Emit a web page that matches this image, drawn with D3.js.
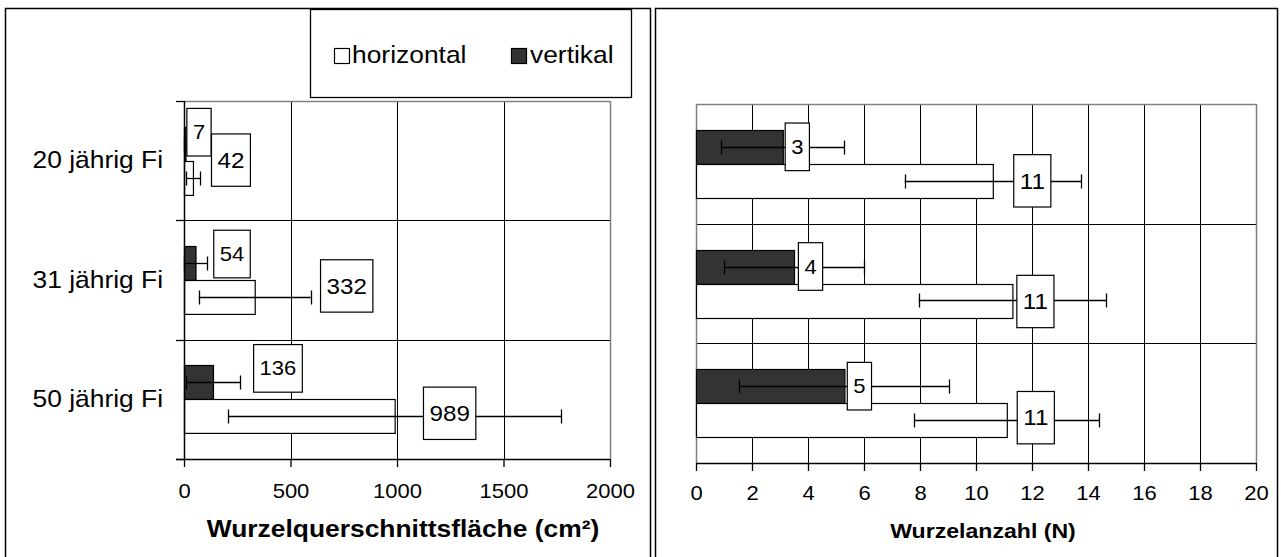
<!DOCTYPE html>
<html>
<head>
<meta charset="utf-8">
<script src="https://cdn.jsdelivr.net/npm/d3@7"></script>
<style>
  html, body { margin: 0; padding: 0; background: #fff; }
  svg { display: block; }
</style>
</head>
<body>
<script>
// Tree categories and the two root orientations
const categories = ["20 jährig Fi", "31 jährig Fi", "50 jährig Fi"];
const series = ["vertikal", "horizontal"];

// Root cross-section area (cm²): means and standard deviations
const areaVertikal = [7, 54, 136];
const areaHorizontal = [42, 332, 989];
const areaVertikalSD = [5, 54, 127];
const areaHorizontalSD = [33, 263, 782];

// Root count (N): means and standard deviations
const countVertikal = [3.1, 3.5, 5.3];
const countHorizontal = [10.6, 11.3, 11.1];
const countVertikalSD = [2.2, 2.5, 3.75];
const countHorizontalSD = [3.15, 3.35, 3.3];

// Axis tick values
const areaTicks = [0, 500, 1000, 1500, 2000];
const countTicks = [0, 2, 4, 6, 8, 10, 12, 14, 16, 18, 20];

// Pixel nudges of the value boxes relative to each bar's end / centre
const areaNudgeV = [[13.5, -11.5], [36.5, -9], [65, -14]];
const areaNudgeH = [[38, -17.5], [92, -11], [55, -3]];
const countNudgeV = [[14.5, 0], [16.5, 0], [15, 0]];
const countNudgeH = [[39.5, 0], [23, 1], [29, -2.5]];

const W = 1281, H = 557;
const FONT = "Arial, 'Liberation Sans', Helvetica, sans-serif";
const SX = 1.1; // slight horizontal widening of all lettering
const DARK = "#333333";
const GREY = "#808080";

const svg = d3.select("body").append("svg")
  .attr("width", W).attr("height", H)
  .attr("font-family", FONT);

const crisp = v => Math.round(v) + 0.5;
const fmt = d3.format(".0f");

function stretchedText(sel) {
  sel.each(function () {
    const t = d3.select(this);
    const prev = t.attr("transform") || "";
    t.attr("transform", prev + ` scale(${SX},1)`);
  });
}

// Outer frames of the two panels
svg.append("rect").attr("x", 5.5).attr("y", 8.5).attr("width", 645).attr("height", 580)
  .attr("fill", "none").attr("stroke", "#000").attr("stroke-width", 1.5);
svg.append("rect").attr("x", 655.5).attr("y", 8.5).attr("width", 622).attr("height", 580)
  .attr("fill", "none").attr("stroke", "#000").attr("stroke-width", 1.5);

function drawPanel(opt) {
  const g = svg.append("g");
  const x = d3.scaleLinear().domain([opt.ticks[0], opt.ticks[opt.ticks.length - 1]])
    .range([opt.left, opt.right]);
  const y = d3.scaleBand().domain(categories).range([opt.top, opt.bottom]);
  const inner = d3.scaleBand().domain(series).range([0, y.bandwidth()])
    .paddingInner(0).paddingOuter(0.76);

  // vertical gridlines
  g.append("g").selectAll("line").data(opt.ticks.slice(1, -1)).join("line")
    .attr("x1", d => crisp(x(d))).attr("x2", d => crisp(x(d)))
    .attr("y1", opt.top).attr("y2", opt.bottom)
    .attr("stroke", "#000").attr("stroke-width", 1);
  // horizontal category separators
  g.append("g").selectAll("line").data(categories.slice(1)).join("line")
    .attr("x1", opt.left).attr("x2", opt.right)
    .attr("y1", d => crisp(y(d))).attr("y2", d => crisp(y(d)))
    .attr("stroke", "#000").attr("stroke-width", 1);

  // plot-area border (grey): top, right, and left when there is no category axis
  const border = g.append("g").attr("stroke", GREY).attr("stroke-width", 1.5).attr("fill", "none");
  border.append("line").attr("x1", opt.left).attr("x2", opt.right)
    .attr("y1", crisp(opt.top)).attr("y2", crisp(opt.top));
  border.append("line").attr("x1", crisp(opt.right)).attr("x2", crisp(opt.right))
    .attr("y1", opt.top).attr("y2", opt.bottom);
  if (!opt.showCategories) {
    border.append("line").attr("x1", crisp(opt.left)).attr("x2", crisp(opt.left))
      .attr("y1", opt.top).attr("y2", opt.bottom);
  }

  const rows = [];
  categories.forEach((c, i) => {
    rows.push({ cat: c, s: "vertikal", v: opt.vert[i], sd: opt.vertSD[i], nudge: opt.nudgeV[i], fs: opt.fsV });
    rows.push({ cat: c, s: "horizontal", v: opt.hor[i], sd: opt.horSD[i], nudge: opt.nudgeH[i], fs: opt.fsH });
  });
  const by = d => y(d.cat) + inner(d.s);
  const bh = inner.bandwidth();

  // bars
  g.append("g").selectAll("rect").data(rows).join("rect")
    .attr("x", crisp(x(0)))
    .attr("y", d => crisp(by(d)))
    .attr("width", d => Math.max(0, x(d.v) - x(0)))
    .attr("height", bh)
    .attr("fill", d => d.s === "vertikal" ? DARK : "#fff")
    .attr("stroke", "#000").attr("stroke-width", 1.2);

  // error bars (mean ± SD, lower end held at zero)
  const eb = g.append("g").attr("stroke", "#000").attr("stroke-width", 1.3);
  rows.forEach(d => {
    const cy = crisp(by(d) + bh / 2);
    const lo = x(Math.max(0, d.v - d.sd)), hi = x(d.v + d.sd);
    eb.append("line").attr("x1", lo).attr("x2", hi).attr("y1", cy).attr("y2", cy);
    eb.append("line").attr("x1", crisp(lo)).attr("x2", crisp(lo)).attr("y1", cy - 7).attr("y2", cy + 7);
    eb.append("line").attr("x1", crisp(hi)).attr("x2", crisp(hi)).attr("y1", cy - 7).attr("y2", cy + 7);
  });

  // bottom value axis
  const xAxis = g.append("g").attr("transform", `translate(0,${crisp(opt.bottom) - 0.5})`)
    .call(d3.axisBottom(x).tickValues(opt.ticks).tickFormat(d3.format("d"))
      .tickSizeInner(8).tickSizeOuter(0).tickPadding(opt.tickPad));
  xAxis.select(".domain").attr("stroke", "#000").attr("stroke-width", 1.5)
    .attr("d", `M${opt.showCategories ? opt.left - 8 : opt.left},0.5H${opt.right}`);
  xAxis.selectAll(".tick line").attr("stroke", "#000").attr("stroke-width", 1.3);
  xAxis.selectAll(".tick text").attr("fill", "#000").attr("font-size", opt.fsTick)
    .attr("font-family", FONT).call(stretchedText);

  // category axis with boundary ticks
  if (opt.showCategories) {
    const yAxis = g.append("g").attr("transform", `translate(${crisp(opt.left) - 0.5},0)`)
      .call(d3.axisLeft(y).tickSize(0).tickPadding(opt.catPad));
    yAxis.select(".domain").attr("stroke", "#000").attr("stroke-width", 1.5)
      .attr("d", `M0.5,${opt.top}V${opt.bottom}`);
    yAxis.selectAll(".tick text").attr("fill", "#000").attr("font-size", opt.fsCat)
      .attr("font-family", FONT).call(stretchedText);
    const bounds = categories.map(c => y(c)).concat([opt.bottom]);
    g.append("g").selectAll("line").data(bounds).join("line")
      .attr("x1", opt.left - 8).attr("x2", opt.left)
      .attr("y1", d => crisp(d)).attr("y2", d => crisp(d))
      .attr("stroke", "#000").attr("stroke-width", 1.3);
  }

  // value boxes
  const lab = g.append("g").selectAll("g").data(rows).join("g")
    .attr("transform", d => `translate(${x(d.v) + d.nudge[0]},${by(d) + bh / 2 + d.nudge[1]})`);
  lab.append("rect").attr("fill", "#fff").attr("stroke", "#000").attr("stroke-width", 1.2);
  const texts = lab.append("text").text(d => fmt(d.v))
    .attr("text-anchor", "middle").attr("dy", "0.35em")
    .attr("font-size", d => d.fs).attr("fill", "#000")
    .call(stretchedText);
  texts.each(function (d) {
    const w = this.getComputedTextLength() * SX + 12;
    const h = d.fs * 2.38;
    d3.select(this.previousSibling)
      .attr("x", -w / 2).attr("y", -h / 2).attr("width", w).attr("height", h);
  });

  // axis title
  svg.append("text").attr("x", opt.titleX).attr("y", opt.titleY)
    .attr("text-anchor", "middle").attr("font-weight", "bold")
    .attr("font-size", opt.fsTitle).attr("fill", "#000")
    .attr("transform", `translate(${opt.titleX * (1 - SX)},0) scale(${SX},1)`)
    .text(opt.title);
}

drawPanel({
  left: 184, right: 610, top: 101, bottom: 459,
  ticks: areaTicks,
  vert: areaVertikal, hor: areaHorizontal, vertSD: areaVertikalSD, horSD: areaHorizontalSD,
  nudgeV: areaNudgeV, nudgeH: areaNudgeH,
  fsV: 20, fsH: 22, fsTick: 20, fsCat: 24, fsTitle: 24,
  tickPad: 17, catPad: 19,
  showCategories: true,
  title: "Wurzelquerschnittsfläche (cm²)", titleX: 403, titleY: 537
});

drawPanel({
  left: 696, right: 1256, top: 104, bottom: 463,
  ticks: countTicks,
  vert: countVertikal, hor: countHorizontal, vertSD: countVertikalSD, horSD: countHorizontalSD,
  nudgeV: countNudgeV, nudgeH: countNudgeH,
  fsV: 20, fsH: 22, fsTick: 20, fsCat: 24, fsTitle: 21,
  tickPad: 15, catPad: 19,
  showCategories: false,
  title: "Wurzelanzahl (N)", titleX: 983, titleY: 538
});

// Legend
const legend = svg.append("g");
legend.append("rect").attr("x", 310.5).attr("y", 9.5).attr("width", 321).attr("height", 88)
  .attr("fill", "#fff").attr("stroke", "#000").attr("stroke-width", 1.3);
const legendItems = [
  { name: "horizontal", fill: "#fff", sx: 334, tx: 352 },
  { name: "vertikal", fill: DARK, sx: 511, tx: 530 }
];
const li = legend.selectAll("g.item").data(legendItems).join("g").attr("class", "item");
li.append("rect").attr("x", d => d.sx + 0.5).attr("y", 48.5).attr("width", 15).attr("height", 15)
  .attr("fill", d => d.fill).attr("stroke", "#000").attr("stroke-width", 1.2);
li.append("text").attr("x", 0).attr("y", 0)
  .attr("transform", d => `translate(${d.tx},63) scale(${SX},1)`)
  .attr("font-size", 24).attr("fill", "#000").text(d => d.name);
</script>
</body>
</html>
